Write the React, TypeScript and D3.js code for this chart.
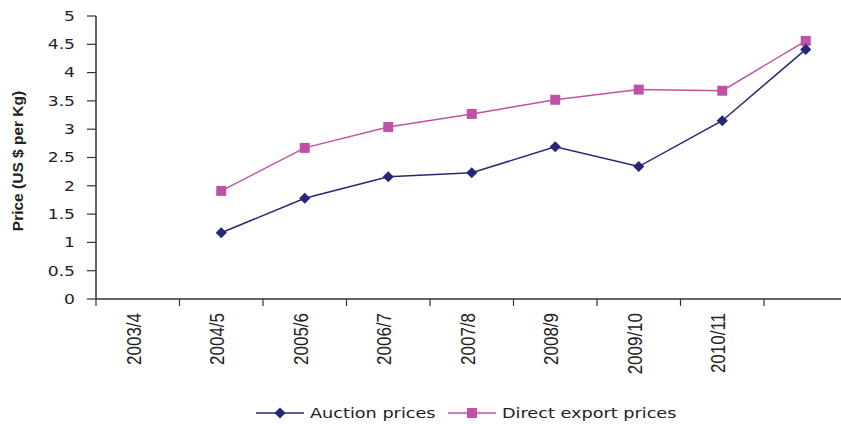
import React, { useEffect, useRef } from 'react';
import * as d3 from 'd3';

const seasons = ['2003/4', '2004/5', '2005/6', '2006/7', '2007/8', '2008/9', '2009/10', '2010/11', ''];
const auctionPrices: (number | null)[] = [null, 1.17, 1.78, 2.16, 2.23, 2.69, 2.34, 3.15, 4.41];
const directExportPrices: (number | null)[] = [null, 1.91, 2.67, 3.04, 3.27, 3.52, 3.70, 3.68, 4.56];
const yTicks = [0, 0.5, 1, 1.5, 2, 2.5, 3, 3.5, 4, 4.5, 5];

const AUCTION = '#27277a';
const DIRECT = '#c052a6';
const AXIS = '#333333';

const App: React.FC = () => {
  const svgRef = useRef<SVGSVGElement | null>(null);

  useEffect(() => {
    if (!svgRef.current) return;
    const svg = d3.select(svgRef.current);
    svg.selectAll('*').remove();

    const width = 841;
    const height = 424;
    const left = 96;
    const step = 83.5;

    const x = d3.scaleBand<string>()
      .domain(seasons.map((s, i) => `${i}`))
      .range([left, left + step * seasons.length])
      .padding(0);

    const y = d3.scaleLinear().domain([0, 5]).range([299, 16]);

    svg.append('rect').attr('width', width).attr('height', height).attr('fill', '#fff');

    // y axis
    svg.append('line')
      .attr('x1', left).attr('x2', left)
      .attr('y1', y(5)).attr('y2', y(0))
      .attr('stroke', AXIS).attr('stroke-width', 1.5);

    const yt = svg.append('g');
    yt.selectAll('line')
      .data(yTicks)
      .join('line')
      .attr('x1', left - 9).attr('x2', left)
      .attr('y1', d => y(d)).attr('y2', d => y(d))
      .attr('stroke', AXIS).attr('stroke-width', 1.2);

    yt.selectAll('text')
      .data(yTicks)
      .join('text')
      .attr('transform', d => `translate(75,${y(d)}) scale(1.27,1)`)
      .attr('dy', '0.36em')
      .attr('text-anchor', 'end')
      .attr('font-family', 'DejaVu Sans, sans-serif')
      .attr('font-size', 13.5)
      .attr('fill', '#222')
      .text(d => `${d}`);

    // y title
    svg.append('text')
      .attr('transform', `translate(23,161) rotate(-90)`)
      .attr('text-anchor', 'middle')
      .attr('font-family', 'Liberation Sans, Arial, sans-serif')
      .attr('font-weight', 'bold')
      .attr('font-size', 15.5)
      .attr('fill', '#222')
      .text('Price (US $ per Kg)');

    // x axis
    svg.append('line')
      .attr('x1', left).attr('x2', left + step * seasons.length)
      .attr('y1', y(0)).attr('y2', y(0))
      .attr('stroke', AXIS).attr('stroke-width', 1.5);

    const boundaries = d3.range(seasons.length + 1).map(i => left + i * step);
    svg.append('g').selectAll('line')
      .data(boundaries)
      .join('line')
      .attr('x1', d => d).attr('x2', d => d)
      .attr('y1', y(0)).attr('y2', y(0) + 7)
      .attr('stroke', AXIS).attr('stroke-width', 1.2);

    svg.append('g').selectAll('text')
      .data(seasons)
      .join('text')
      .attr('transform', (d, i) => `translate(${(x(`${i}`) as number) + x.bandwidth() / 2 + 3},313) rotate(-90) scale(0.97,1.15)`)
      .attr('text-anchor', 'end')
      .attr('font-family', 'Liberation Sans, Arial, sans-serif')
      .attr('font-size', 17.5)
      .attr('fill', '#222')
      .text(d => d);

    const cx = (i: number) => (x(`${i}`) as number) + x.bandwidth() / 2;

    const line = d3.line<number | null>()
      .defined(d => d !== null)
      .x((d, i) => cx(i))
      .y(d => y(d as number));

    // direct export series
    svg.append('path')
      .datum(directExportPrices)
      .attr('d', line)
      .attr('fill', 'none')
      .attr('stroke', DIRECT)
      .attr('stroke-width', 1.5);

    svg.append('g').selectAll('path')
      .data(directExportPrices.map((v, i) => ({ v, i })).filter(d => d.v !== null))
      .join('path')
      .attr('d', d3.symbol().type(d3.symbolSquare).size(100)())
      .attr('transform', d => `translate(${cx(d.i)},${y(d.v as number)})`)
      .attr('fill', DIRECT);

    // auction series
    svg.append('path')
      .datum(auctionPrices)
      .attr('d', line)
      .attr('fill', 'none')
      .attr('stroke', AUCTION)
      .attr('stroke-width', 1.5);

    svg.append('g').selectAll('path')
      .data(auctionPrices.map((v, i) => ({ v, i })).filter(d => d.v !== null))
      .join('path')
      .attr('d', d3.symbol().type(d3.symbolSquare).size(62)())
      .attr('transform', d => `translate(${cx(d.i)},${y(d.v as number)}) rotate(45)`)
      .attr('fill', AUCTION);

    // legend
    const legendItems = [
      { label: 'Auction prices', color: AUCTION, x0: 256, diamond: true },
      { label: 'Direct export prices', color: DIRECT, x0: 448, diamond: false },
    ];
    const lg = svg.append('g').attr('transform', 'translate(0,413)');
    legendItems.forEach(item => {
      const g = lg.append('g').attr('transform', `translate(${item.x0},0)`);
      g.append('line')
        .attr('x1', 0).attr('x2', 48)
        .attr('y1', 0).attr('y2', 0)
        .attr('stroke', item.color).attr('stroke-width', 1.5);
      g.append('path')
        .attr('d', d3.symbol().type(d3.symbolSquare).size(item.diamond ? 62 : 100)())
        .attr('transform', `translate(24,0)${item.diamond ? ' rotate(45)' : ''}`)
        .attr('fill', item.color);
      g.append('text')
        .attr('transform', `translate(54,5) scale(1.29,1)`)
        .attr('font-family', 'DejaVu Sans, sans-serif')
        .attr('font-size', 13.7)
        .attr('fill', '#222')
        .text(item.label);
    });
  }, []);

  return (
    <svg
      ref={svgRef}
      width={841}
      height={424}
      style={{ position: 'absolute', left: 0, top: 0, display: 'block' }}
    />
  );
};

export default App;
